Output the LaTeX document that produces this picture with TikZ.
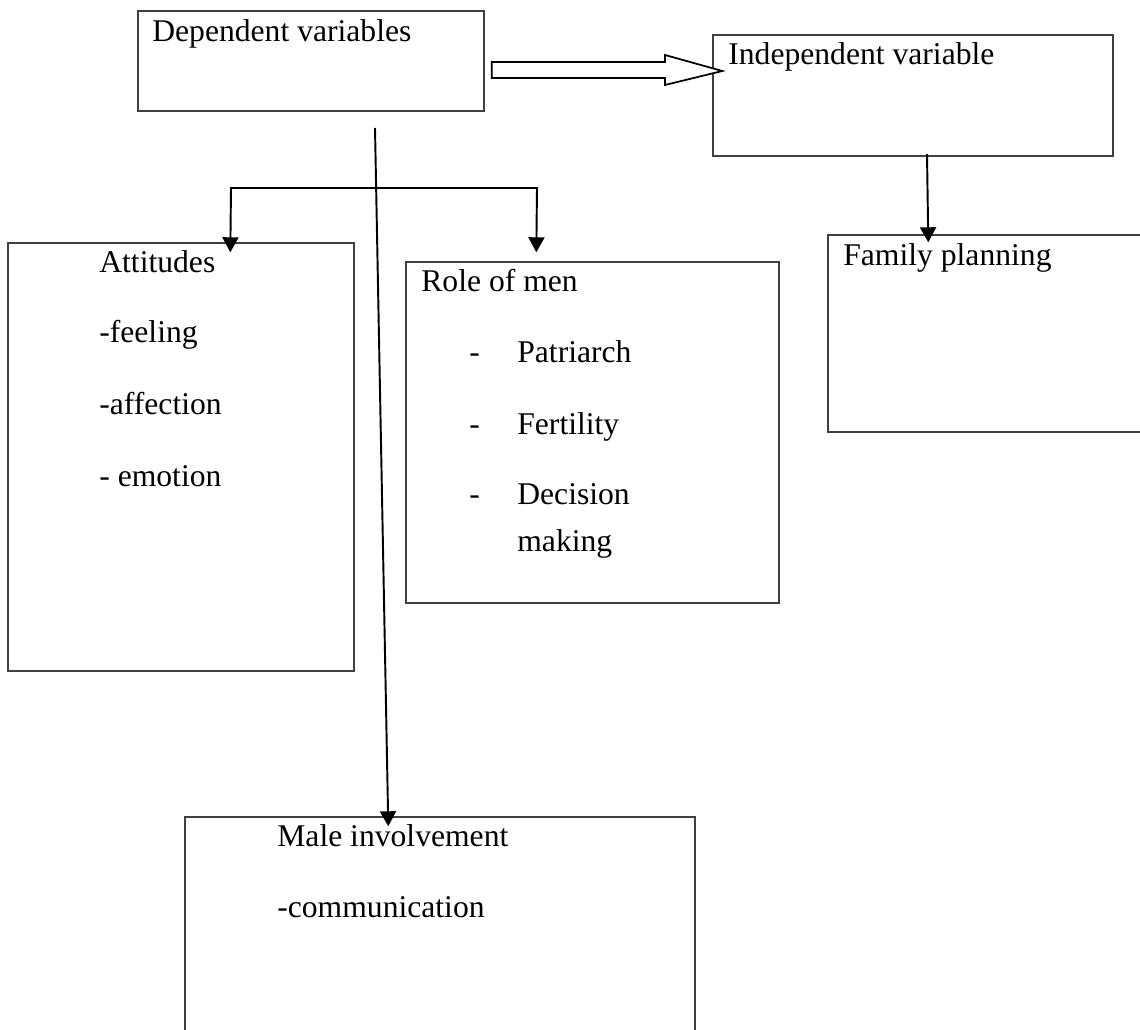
\documentclass[tikz,border=0pt]{standalone}
\usepackage{fontspec}
\setmainfont{Liberation Serif}
\usetikzlibrary{arrows.meta,fit,calc}
\begin{document}
\begin{tikzpicture}[x=0.02cm,y=-0.02cm,
  boxstyle/.style={draw=black!75,line width=0.8pt,inner sep=0pt,fill=none},
  txt/.style={anchor=base west,inner sep=0pt,font=\fontsize{18}{20}\selectfont},
  arr/.style={line width=1.1pt,-{Triangle[length=0.3cm,width=0.32cm]}},
  dblarr/.style={line width=1.1pt,{Triangle[length=0.3cm,width=0.32cm]}-{Triangle[length=0.3cm,width=0.32cm]}},
  blockarrow/.style={draw=black,line width=1pt,fill=white,line join=miter}]
\useasboundingbox (0,0) rectangle (1140,1030);
\fill[white] (0,0) rectangle (1140,1030);
\clip (0,0) rectangle (1140,1030);
% boxes
\node[boxstyle,fit={(138,11) (484,111)}] (dep) {};
\node[boxstyle,fit={(713,35) (1113,156)}] (indep) {};
\node[boxstyle,fit={(828,235) (1175,432)}] (fp) {};
\node[boxstyle,fit={(8,243) (354,671)}] (att) {};
\node[boxstyle,fit={(406,262) (779,603)}] (role) {};
\node[boxstyle,fit={(185,817) (695,1060)}] (male) {};
% texts
\node[txt] (tdep) at (152,42) {Dependent variables};
\node[txt] (tindep) at (728,65) {Independent variable};
\node[txt] (tfp) at (843,266) {Family planning};
\node[txt] (tatt) at (99,273) {Attitudes};
\node[txt] (tatt1) at (99,343) {-feeling};
\node[txt] (tatt2) at (99,415) {-affection};
\node[txt] (tatt3) at (99,487) {- emotion};
\node[txt] (trole) at (421,292) {Role of men};
\node[txt] (trd1) at (469,363) {-};
\node[txt] (trole1) at (517,363) {Patriarch};
\node[txt] (trd2) at (469,435) {-};
\node[txt] (trole2) at (517,435) {Fertility};
\node[txt] (trd3) at (469,505) {-};
\node[txt] (trole3) at (517,505) {Decision};
\node[txt] (trole4) at (517,552) {making};
\node[txt] (tmale) at (277,846) {Male involvement};
\node[txt] (tmale1) at (277,917) {-communication};
% block arrow dep -> indep
\coordinate (ba0) at ($(dep.east)+(7,1)$);
\coordinate (batip) at ($(indep.west)+(10,-24.5)$);
\draw[blockarrow] (ba0) -- (665,62) -- (665,55) -- (batip) -- (665,85) -- (665,78) -- ($(ba0)+(0,16)$) -- cycle;
% long connector dep -> male
\coordinate (s1) at (375,128);
\draw[arr] (s1) -- ($(male.north west)+(204,10)$);
% branch to attitudes and role
\draw[dblarr] ($(att.north west)+(223,10)$) -- (231,188) -- (537,188) -- ($(role.north west)+(131,-9)$);
% indep -> family planning
\coordinate (s2) at (927,154);
\draw[arr] (s2) -- ($(fp.north west)+(101,8)$);
\end{tikzpicture}
\end{document}
